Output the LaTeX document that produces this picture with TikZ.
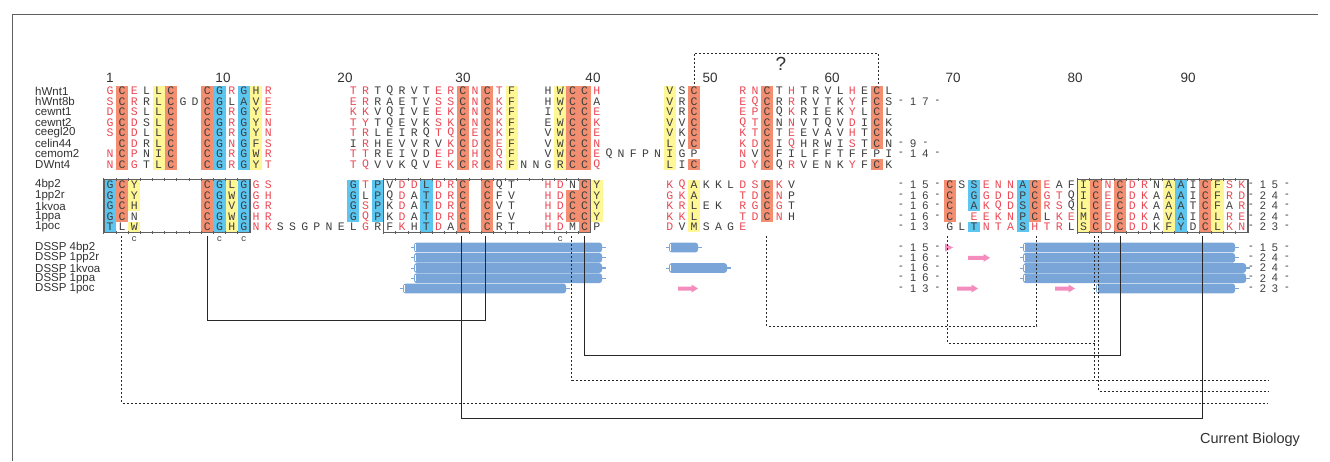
\documentclass[tikz,border=0pt]{standalone}
\usepackage{fontspec}
\setmainfont{Liberation Sans}
\newfontfamily\monof{Liberation Mono}
\definecolor{hlor}{RGB}{243,143,112}
\definecolor{hlbl}{RGB}{92,198,240}
\definecolor{hlye}{RGB}{255,246,150}
\definecolor{seqred}{RGB}{236,72,84}
\definecolor{seqdark}{RGB}{62,62,62}
\definecolor{dsspbl}{RGB}{122,165,216}
\definecolor{dssppk}{RGB}{245,140,190}
\definecolor{boxgr}{RGB}{95,95,95}
\definecolor{labgr}{RGB}{50,50,50}
\definecolor{linegr}{RGB}{40,40,40}
\newcount\colc
\def\sx{97.83}
\newcommand\seqrow[4]{\colc=#3\relax\def\rowname{#1}\def\rowy{#2}\seqloop#4\relax}
\def\seqloop#1{\ifx#1\relax\else\seqchar#1\advance\colc by 1\relax\expandafter\seqloop\fi}
\def\seqchar#1{\if.#1\else\seqnode#1\fi}
\def\seqnode#1{%
  \ifnum`#1>96\relax\def\sqc{seqred}\else\def\sqc{seqdark}\fi
  \ifnum`#1<65\relax\def\sqf{\rmfamily\fontsize{11}{11}\selectfont}\else\def\sqf{\monof}\fi
  \node[seqltr,text=\sqc] (\rowname-\the\colc) at ({\sx+\the\colc*12.17},\rowy) {\sqf\uppercase{#1}};}
\newcommand\hlt[4]{\fill[#1] ({\sx+#2*12.17-6.09},{85.75+10.5*#3}) rectangle ({\sx+#2*12.17+6.09},{96.25+10.5*#4});}
\newcommand\hls[4]{\fill[#1] ({\sx+#2*12.17-6.09},{179.75+10.5*#3}) rectangle ({\sx+#2*12.17+6.09},{190.25+10.5*#4});}
\newcommand\strbox[2]{%
  \draw[boxgr,line width=1.3] ({\sx+#1*12.17-6.09},179.75) rectangle ({\sx+#2*12.17+6.09},232.25);
  \foreach \k in {#1,...,#2}{%
    \draw[boxgr,line width=1] ({\sx+\k*12.17-6.09},178) -- ++(0,3.2);
    \draw[boxgr,line width=1] ({\sx+\k*12.17-6.09},230.8) -- ++(0,3.2);}}
\newcommand\rnum[4]{%
  \node[numltr] (#1-a) at (1251,#2) {-};
  \node[numltr] (#1-b) at (1263,#2) {#3};
  \node[numltr] (#1-c) at (1275,#2) {#4};
  \node[numltr] (#1-d) at (1287,#2) {-};}
\newcommand\helix[3]{%
  \fill[dsspbl,rounded corners=2.5] ({#2},{#1-4.8}) rectangle ({#3},{#1+4.8});
  \draw[dsspbl,line width=1] ({#2-3.5},{#1}) -- ({#2+3},{#1});
  \draw[white,line width=0.6] ({#2+1.5},{#1-3.2}) -- ({#2+1.5},{#1+3.2});
  \draw[dsspbl,line width=1.2] ({#3-1},{#1}) -- ({#3+3.5},{#1});}
\newcommand\strand[3]{%
  \fill[dssppk] ({#2},{#1-2}) -- ({#3-6.5},{#1-2}) -- ({#3-6.5},{#1-4}) -- ({#3},{#1}) -- ({#3-6.5},{#1+4}) -- ({#3-6.5},{#1+2}) -- ({#2},{#1+2}) -- cycle;}
\begin{document}
\begin{tikzpicture}[x=1pt,y=-1pt,
  seqltr/.style={inner sep=0pt,font=\fontsize{11.5}{11.5}\selectfont},
  numltr/.style={inner sep=0pt,text=seqdark,font=\fontsize{11}{11}\selectfont},
  rowlab/.style={inner sep=0pt,anchor=west,text=labgr,font=\fontsize{11.5}{11.5}\selectfont},
  collab/.style={inner sep=0pt,text=labgr,font=\fontsize{13.5}{13.5}\selectfont},
  cmark/.style={inner sep=0pt,text=seqdark,font=\monof\fontsize{9}{9}\selectfont},
  bond/.style={linegr,line width=0.9},
  dbond/.style={linegr,line width=0.9,dash pattern=on 2pt off 2pt}]
\useasboundingbox (0,0) rectangle (1330,461);
\fill[white] (0,0) rectangle (1330,461);
\draw[boxgr,line width=0.9] (12,461) -- (12,14) -- (1318,14);
% column numbers
\node[collab] (n1) at (110,77.5) {1};
\node[collab] (n10) at (223,77.5) {10};
\node[collab] (n20) at (345,77.5) {20};
\node[collab] (n30) at (463,77.5) {30};
\node[collab] (n40) at (593,77.5) {40};
\node[collab] (n50) at (710,77.5) {50};
\node[collab] (n60) at (832,77.5) {60};
\node[collab] (n70) at (953,77.5) {70};
\node[collab] (n80) at (1075,77.5) {80};
\node[collab] (n90) at (1188,77.5) {90};
\node[collab,font=\fontsize{19}{19}\selectfont] (qm) at (781,64) {?};
\coordinate (qa) at (694,84);
\coordinate (qb) at (878,84);
\coordinate (qt) at (0,53);
\draw[dbond] (qa) -- (qa |- qt) -- (qb |- qt) -- (qb);
% top block highlights
\hlt{hlor}{2}{0}{7} \hlt{hlye}{5}{0}{7} \hlt{hlor}{6}{0}{7}
\hlt{hlor}{9}{0}{7} \hlt{hlbl}{10}{0}{7} \hlt{hlbl}{12}{0}{7} \hlt{hlye}{13}{0}{7}
\hlt{hlor}{30}{0}{7} \hlt{hlor}{32}{0}{7} \hlt{hlye}{34}{0}{7} \hlt{hlye}{38}{0}{7}
\hlt{hlor}{39}{0}{7} \hlt{hlor}{40}{0}{7} \hlt{hlye}{47}{0}{7}
\hlt{hlor}{49}{0}{5} \hlt{hlor}{49}{7}{7} \hlt{hlor}{55}{0}{7}
\hlt{hlor}{64}{0}{5} \hlt{hlor}{64}{7}{7}
% structure block highlights
\hls{hlbl}{1}{0}{4} \hls{hlor}{2}{0}{3} \hls{hlye}{3}{0}{2} \hls{hlye}{3}{4}{4}
\hls{hlor}{9}{0}{4} \hls{hlbl}{10}{0}{4} \hls{hlye}{11}{0}{4} \hls{hlbl}{12}{0}{4}
\hls{hlbl}{21}{0}{3} \hls{hlbl}{23}{0}{3} \hls{hlbl}{27}{0}{4}
\hls{hlor}{30}{0}{4} \hls{hlor}{32}{0}{4} \hls{hlor}{39}{1}{3} \hls{hlor}{40}{0}{4} \hls{hlye}{41}{0}{3}
\hls{hlye}{49}{0}{4} \hls{hlor}{55}{0}{3}
\hls{hlor}{70}{0}{3} \hls{hlbl}{72}{0}{2} \hls{hlbl}{72}{4}{4} \hls{hlbl}{76}{0}{4} \hls{hlor}{77}{0}{3}
\hls{hlye}{81}{0}{4} \hls{hlor}{82}{0}{4} \hls{hlor}{84}{0}{4}
\hls{hlye}{88}{0}{4} \hls{hlbl}{89}{0}{4} \hls{hlor}{91}{0}{4} \hls{hlye}{92}{0}{4}
\strbox{1}{12} \strbox{24}{40} \strbox{81}{94}
% row labels
\node[rowlab] (l0) at (35,91) {hWnt1};
\node[rowlab] (l1) at (35,101.5) {hWnt8b};
\node[rowlab] (l2) at (35,112) {cewnt1};
\node[rowlab] (l3) at (35,122.5) {cewnt2};
\node[rowlab] (l4) at (35,133) {ceegl20};
\node[rowlab] (l5) at (35,143.5) {celin44};
\node[rowlab] (l6) at (35,154) {cemom2};
\node[rowlab] (l7) at (35,164.5) {DWnt4};
\node[rowlab] (s0) at (35,185) {4bp2};
\node[rowlab] (s1) at (35,195.5) {1pp2r};
\node[rowlab] (s2) at (35,206) {1kvoa};
\node[rowlab] (s3) at (35,216.5) {1ppa};
\node[rowlab] (s4) at (35,227) {1poc};
\node[rowlab] (d0) at (35,247.5) {DSSP 4bp2};
\node[rowlab] (d1) at (35,257.8) {DSSP 1pp2r};
\node[rowlab] (d2) at (35,268) {DSSP 1kvoa};
\node[rowlab] (d3) at (35,278.2) {DSSP 1ppa};
\node[rowlab] (d4) at (35,288.5) {DSSP 1poc};
% top block sequences
\seqrow{t0}{91}{1}{gCeLLC..CGrGHr......trTQRVTerCnCtF..HWCCh.....VSC...rnCThTRVLhECL}
\seqrow{t1}{101.5}{1}{sCrRLCGDCGLAVe......erRAETVssCnCkF..HWCCA.....VRC...eqCRrRVTKyFCS-17-}
\seqrow{t2}{112}{1}{dCsLLC..CGrGYe......kkVQIVEekCnCkF..IYCCe.....VRC...epCQkRIEKyLCL}
\seqrow{t3}{122.5}{1}{gCdSLC..CGrGYn......tyTQEVKskCnCkF..EWCCk.....VVC...qtCNnVTQVdICK}
\seqrow{t4}{133}{1}{sCdLLC..CGrGYn......trLEIRQtqCeCkF..VWCCe.....VKC...ktCTeEVAVhTCK}
\seqrow{t5}{143.5}{1}{.CdRLC..CGnGFs......IrHEVVRVkCdCeF..VWCCn.....LVC...kdCIqHRWIsTCN-9-}
\seqrow{t6}{154}{1}{nCpNIC..CGrGWr......ttREIVDepChCqF..VWCCeQNFPNIGP...nVCFILFFTFFPI-14-}
\seqrow{t7}{164.5}{1}{nCgTLC..CGrGYt......tqVVKQVekCrCrFNNGRCCq.....LIC...dyCQrVENKyFCK}
% structure sequences
\seqrow{u0}{185}{1}{GCY.....CGLGgs......GtPVddLdrC.CQT..hdNCY.....kqAKKLdsCkV........-15-CSSennACeAFICnCdrNAAICFsk}
\seqrow{u1}{195.5}{1}{GCY.....CGWGgh......GLPQdATdrC.CFV..hdCCY.....gkA...tdCnP........-16-C.GgddPCgtQICeCdkAAAICFrd}
\seqrow{u2}{206}{1}{GCH.....CGVGgr......GsPKdATdrC.CVT..hdCCY.....krLEK.rgCgT........-16-C.AkqdSCrsQLCeCdkAAATCFAr}
\seqrow{u3}{216.5}{1}{GCN.....CGWGhr......GqPKdATdrC.CFV..hkCCY.....kkL...tdCnH........-16-C.eeknPCLkeMCeCdkAVAICLre}
\seqrow{u4}{227}{1}{TLW.....CGHGnkSSGPNELgRFkHTdAC.CRT..hdMCP.....dVMSAGe............-13.GLTntaShtrLSCdCddKFYDCLkn}
\rnum{r0}{185}{1}{5} \rnum{r1}{195.5}{2}{4} \rnum{r2}{206}{2}{4} \rnum{r3}{216.5}{2}{4} \rnum{r4}{227}{2}{3}
\node[cmark] (c3) at (134.3,239) {c};
\node[cmark] (c10) at (219.5,239) {c};
\node[cmark] (c12) at (243.9,239) {c};
\node[cmark] (c38) at (560.2,239) {c};
% DSSP
\helix{247.5}{414}{602} \helix{247.5}{669}{698} \helix{247.5}{1023}{1235}
\fill[dssppk] (945,243.5) -- (953,247.5) -- (945,251.5) -- cycle;
\helix{257.8}{414}{602} \strand{257.8}{968}{990} \helix{257.8}{1023}{1235}
\helix{268}{414}{602} \helix{268}{669}{727} \helix{268}{1023}{1246}
\helix{278.2}{414}{602} \helix{278.2}{1023}{1246}
\helix{288.5}{403}{566} \strand{288.5}{678}{698} \strand{288.5}{957}{978} \strand{288.5}{1055}{1075} \helix{288.5}{1096}{1235}
\seqrow{v0}{247.5}{66}{-15-} \seqrow{v1}{257.8}{66}{-16-} \seqrow{v2}{268}{66}{-16-}
\seqrow{v3}{278.2}{66}{-16-} \seqrow{v4}{288.5}{66}{-13-}
\rnum{w0}{247.5}{1}{5} \rnum{w1}{257.8}{2}{4} \rnum{w2}{268}{2}{4} \rnum{w3}{278.2}{2}{4} \rnum{w4}{288.5}{2}{3}
% disulfide connectors
\coordinate (b2) at (121.9,236);
\coordinate (b9) at (207.2,236);
\coordinate (b30) at (461.6,236);
\coordinate (b32) at (485.9,236);
\coordinate (b39) at (571.8,236);
\coordinate (b40) at (584.6,236);
\coordinate (b55) at (766.6,236);
\coordinate (b70) at (947.7,236);
\coordinate (b77) at (1036.8,236);
\coordinate (b82a) at (1094.8,236);
\coordinate (b82b) at (1098.6,236);
\coordinate (b84) at (1120.3,236);
\coordinate (b91) at (1202.9,236);
\coordinate (rend) at (1268,0);
\coordinate (lv1) at (0,320);
\coordinate (lv2) at (0,326);
\coordinate (lv3) at (0,343);
\coordinate (lv4) at (0,355);
\coordinate (lv5) at (0,380);
\coordinate (lv6) at (0,391);
\coordinate (lv7) at (0,403);
\coordinate (lv8) at (0,418);
\draw[bond] (b9) -- (b9 |- lv1) -- (b32 |- lv1) -- (b32);
\draw[dbond] (b55) -- (b55 |- lv2) -- (b77 |- lv2) -- (b77);
\draw[dbond] (b70) -- (b70 |- lv3) -- (b82a |- lv3);
\draw[dbond] (b82a) -- (b82a |- lv5);
\draw[bond] (b40) -- (b40 |- lv4) -- (b84 |- lv4) -- (b84);
\draw[dbond] (b39) -- (b39 |- lv5) -- (rend |- lv5);
\draw[dbond] (b82b) -- (b82b |- lv6) -- (rend |- lv6);
\draw[dbond] (b2) -- (b2 |- lv7) -- (rend |- lv7);
\draw[bond] (b30) -- (b30 |- lv8) -- (b91 |- lv8) -- (b91);
\node[inner sep=0pt,text=labgr,font=\fontsize{14.5}{14.5}\selectfont] (cb) at (1250,440) {Current Biology};
\end{tikzpicture}
\end{document}
